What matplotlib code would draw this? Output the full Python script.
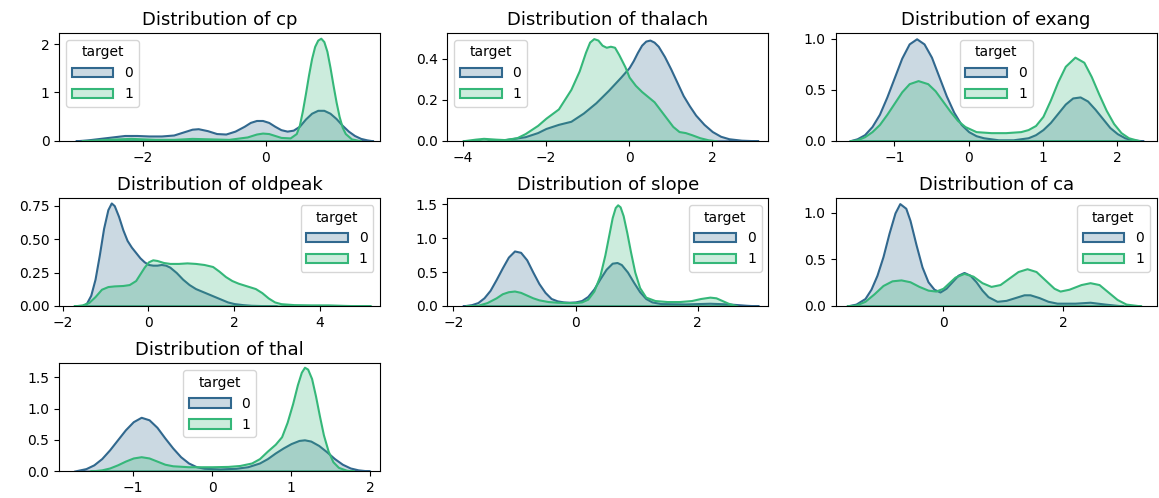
import numpy as np
import matplotlib
matplotlib.use('Agg')
import matplotlib.pyplot as plt
from matplotlib.patches import Patch

# density curves (x, y) for target 0 and target 1
cp_x0 = [-3.1, -2.9, -2.7, -2.5, -2.3, -2.1, -1.9, -1.7, -1.5, -1.3, -1.2, -1.1, -0.95, -0.8, -0.65, -0.5,
         -0.35, -0.25, -0.15, -0.05, 0.05, 0.15, 0.25, 0.35, 0.45, 0.55, 0.65, 0.75, 0.85, 0.95, 1.05,
         1.15, 1.25, 1.35, 1.45, 1.55, 1.65, 1.75]
cp_y0 = [0.0, 0.02, 0.05, 0.08, 0.11, 0.11, 0.10, 0.10, 0.12, 0.2, 0.24, 0.25, 0.21, 0.15, 0.14, 0.2,
         0.3, 0.38, 0.42, 0.42, 0.38, 0.3, 0.23, 0.2, 0.22, 0.3, 0.45, 0.57, 0.63, 0.63, 0.57,
         0.46, 0.32, 0.2, 0.11, 0.05, 0.02, 0.0]
cp_x1 = [-3.0, -2.6, -2.2, -1.8, -1.5, -1.2, -0.9, -0.6, -0.3, -0.15, -0.05, 0.05, 0.15, 0.25, 0.4, 0.5,
         0.55, 0.6, 0.65, 0.7, 0.75, 0.8, 0.85, 0.9, 0.95, 1.0, 1.05, 1.1, 1.15, 1.2, 1.25, 1.3, 1.4, 1.55]
cp_y1 = [0.0, 0.03, 0.05, 0.03, 0.03, 0.05, 0.04, 0.03, 0.08, 0.14, 0.16, 0.15, 0.11, 0.07, 0.06, 0.15,
         0.32, 0.62, 0.98, 1.36, 1.7, 1.95, 2.08, 2.12, 2.05, 1.85, 1.52, 1.15, 0.8, 0.5, 0.28, 0.15, 0.04, 0.0]

thalach_x0 = [-3.4, -3.0, -2.5, -2.2, -2.0, -1.7, -1.4, -1.1, -0.8, -0.5, -0.2, 0.0, 0.1, 0.2, 0.3, 0.4,
              0.5, 0.6, 0.7, 0.85, 1.0, 1.15, 1.3, 1.45, 1.6, 1.8, 2.0, 2.2, 2.4, 2.7, 3.1]
thalach_y0 = [0.0, 0.005, 0.02, 0.04, 0.06, 0.08, 0.095, 0.135, 0.185, 0.245, 0.31, 0.356, 0.39, 0.43,
              0.465, 0.485, 0.49, 0.48, 0.46, 0.41, 0.35, 0.285, 0.22, 0.17, 0.125, 0.08, 0.045, 0.022,
              0.01, 0.003, 0.0]
thalach_x1 = [-4.0, -3.7, -3.5, -3.2, -3.0, -2.7, -2.5, -2.2, -2.0, -1.7, -1.4, -1.2, -1.05, -0.95, -0.85,
              -0.75, -0.65, -0.55, -0.45, -0.35, -0.25, -0.1, 0.0, 0.15, 0.3, 0.45, 0.6, 0.75, 0.9, 1.05,
              1.2, 1.35, 1.5, 1.7, 1.9, 2.1]
thalach_y1 = [0.0, 0.008, 0.012, 0.008, 0.006, 0.015, 0.035, 0.075, 0.11, 0.155, 0.25, 0.34, 0.43, 0.48,
              0.497, 0.49, 0.465, 0.455, 0.46, 0.455, 0.42, 0.36, 0.31, 0.27, 0.24, 0.215, 0.19, 0.15,
              0.11, 0.07, 0.045, 0.04, 0.03, 0.015, 0.005, 0.0]

exang_x0 = [-1.6, -1.5, -1.4, -1.3, -1.2, -1.1, -1.0, -0.9, -0.8, -0.7, -0.6, -0.5, -0.4, -0.3, -0.2, -0.1,
            0.0, 0.1, 0.2, 0.4, 0.6, 0.8, 0.9, 1.0, 1.1, 1.2, 1.3, 1.4, 1.5, 1.6, 1.7, 1.8, 1.9, 2.0, 2.1,
            2.2, 2.35]
exang_y0 = [0.0, 0.02, 0.06, 0.14, 0.26, 0.43, 0.62, 0.81, 0.95, 1.0, 0.95, 0.82, 0.63, 0.44, 0.28, 0.16,
            0.09, 0.05, 0.03, 0.01, 0.01, 0.03, 0.06, 0.11, 0.18, 0.27, 0.36, 0.42, 0.43, 0.39, 0.31, 0.22,
            0.13, 0.07, 0.03, 0.01, 0.0]
exang_x1 = [-1.6, -1.5, -1.4, -1.3, -1.2, -1.1, -1.0, -0.9, -0.8, -0.68, -0.55, -0.45, -0.35, -0.25, -0.15,
            -0.05, 0.1, 0.3, 0.5, 0.7, 0.8, 0.9, 1.0, 1.1, 1.2, 1.3, 1.43, 1.55, 1.65, 1.75, 1.85, 1.95,
            2.05, 2.15, 2.3]
exang_y1 = [0.0, 0.01, 0.04, 0.09, 0.16, 0.26, 0.37, 0.48, 0.56, 0.59, 0.56, 0.49, 0.39, 0.29, 0.2, 0.14,
            0.09, 0.08, 0.08, 0.09, 0.11, 0.15, 0.24, 0.4, 0.58, 0.73, 0.82, 0.77, 0.63, 0.46, 0.3, 0.17,
            0.08, 0.03, 0.0]

oldpeak_x0 = [-1.55, -1.45, -1.35, -1.25, -1.15, -1.05, -0.95, -0.87, -0.8, -0.7, -0.6, -0.5, -0.4, -0.3,
              -0.2, -0.1, 0.0, 0.1, 0.2, 0.3, 0.4, 0.5, 0.65, 0.8, 0.95, 1.1, 1.25, 1.4, 1.55, 1.7, 1.85,
              2.0, 2.2, 2.4, 3.0]
oldpeak_y0 = [0.0, 0.02, 0.08, 0.2, 0.38, 0.58, 0.72, 0.77, 0.75, 0.67, 0.57, 0.49, 0.44, 0.4, 0.36, 0.33,
              0.31, 0.305, 0.305, 0.31, 0.305, 0.29, 0.25, 0.2, 0.16, 0.13, 0.11, 0.09, 0.07, 0.05, 0.03,
              0.018, 0.01, 0.005, 0.0]
oldpeak_x1 = [-1.75, -1.55, -1.4, -1.25, -1.1, -0.95, -0.8, -0.6, -0.45, -0.3, -0.2, -0.1, 0.0, 0.1, 0.2,
              0.35, 0.5, 0.7, 0.9, 1.1, 1.3, 1.5, 1.65, 1.8, 1.95, 2.1, 2.3, 2.5, 2.65, 2.8, 2.95, 3.1,
              3.4, 3.8, 4.2, 4.6, 5.2]
oldpeak_y1 = [0.0, 0.008, 0.025, 0.07, 0.125, 0.145, 0.15, 0.153, 0.16, 0.19, 0.24, 0.29, 0.33, 0.345,
              0.34, 0.325, 0.318, 0.318, 0.322, 0.318, 0.31, 0.295, 0.26, 0.22, 0.19, 0.17, 0.15, 0.13,
              0.1, 0.06, 0.03, 0.017, 0.01, 0.008, 0.008, 0.004, 0.0]

slope_x0 = [-1.85, -1.7, -1.6, -1.5, -1.4, -1.3, -1.2, -1.1, -1.0, -0.9, -0.8, -0.7, -0.6, -0.5, -0.4,
            -0.3, -0.2, -0.1, 0.0, 0.1, 0.2, 0.3, 0.4, 0.5, 0.6, 0.68, 0.75, 0.85, 0.95, 1.05, 1.15, 1.25,
            1.4, 1.8, 2.2, 2.5, 2.8, 3.0]
slope_y0 = [0.0, 0.02, 0.05, 0.12, 0.23, 0.39, 0.56, 0.72, 0.81, 0.79, 0.68, 0.5, 0.33, 0.2, 0.11, 0.075,
            0.06, 0.055, 0.06, 0.08, 0.14, 0.25, 0.4, 0.54, 0.63, 0.64, 0.61, 0.5, 0.35, 0.21, 0.11, 0.06,
            0.035, 0.03, 0.04, 0.03, 0.01, 0.0]
slope_x1 = [-1.8, -1.6, -1.45, -1.3, -1.2, -1.1, -1.0, -0.9, -0.8, -0.7, -0.6, -0.45, -0.3, -0.15, 0.0,
            0.1, 0.2, 0.3, 0.4, 0.48, 0.55, 0.6, 0.65, 0.69, 0.73, 0.78, 0.84, 0.9, 0.97, 1.05, 1.15, 1.3,
            1.5, 1.7, 1.9, 2.05, 2.2, 2.3, 2.4, 2.5, 2.65]
slope_y1 = [0.0, 0.01, 0.05, 0.12, 0.18, 0.21, 0.22, 0.2, 0.16, 0.12, 0.09, 0.065, 0.055, 0.05, 0.05,
            0.06, 0.1, 0.22, 0.45, 0.75, 1.07, 1.3, 1.45, 1.49, 1.46, 1.33, 1.08, 0.8, 0.5, 0.27, 0.13,
            0.08, 0.065, 0.065, 0.08, 0.11, 0.13, 0.12, 0.08, 0.04, 0.0]

ca_x0 = [-1.6, -1.45, -1.3, -1.2, -1.1, -1.0, -0.9, -0.8, -0.72, -0.62, -0.55, -0.45, -0.35, -0.25, -0.15,
         -0.05, 0.05, 0.15, 0.25, 0.35, 0.45, 0.55, 0.65, 0.75, 0.9, 1.05, 1.2, 1.35, 1.45, 1.6, 1.75, 1.9,
         2.2, 2.45, 2.7, 3.0]
ca_y0 = [0.0, 0.02, 0.08, 0.18, 0.33, 0.53, 0.78, 1.0, 1.1, 1.05, 0.92, 0.66, 0.42, 0.26, 0.18, 0.15,
         0.19, 0.26, 0.33, 0.36, 0.33, 0.26, 0.17, 0.1, 0.05, 0.06, 0.09, 0.12, 0.12, 0.09, 0.05, 0.03,
         0.03, 0.04, 0.02, 0.0]
ca_x1 = [-1.6, -1.45, -1.3, -1.15, -1.0, -0.85, -0.7, -0.55, -0.4, -0.25, -0.12, 0.0, 0.1, 0.2, 0.35, 0.5,
         0.65, 0.8, 0.95, 1.1, 1.25, 1.4, 1.55, 1.7, 1.85, 1.95, 2.1, 2.3, 2.45, 2.6, 2.75, 2.9, 3.05, 3.3]
ca_y1 = [0.0, 0.01, 0.05, 0.13, 0.22, 0.27, 0.28, 0.26, 0.21, 0.17, 0.16, 0.19, 0.25, 0.31, 0.35, 0.32,
         0.25, 0.21, 0.23, 0.3, 0.37, 0.4, 0.37, 0.28, 0.19, 0.16, 0.18, 0.23, 0.25, 0.23, 0.15, 0.07,
         0.02, 0.0]

thal_x0 = [-1.75, -1.6, -1.5, -1.4, -1.3, -1.2, -1.1, -1.0, -0.9, -0.8, -0.7, -0.6, -0.5, -0.4, -0.3, -0.2,
           -0.1, 0.1, 0.3, 0.45, 0.6, 0.7, 0.8, 0.9, 1.0, 1.1, 1.17, 1.25, 1.35, 1.45, 1.55, 1.65, 1.75,
           1.85, 2.0]
thal_y0 = [0.0, 0.04, 0.1, 0.2, 0.34, 0.5, 0.66, 0.79, 0.86, 0.82, 0.7, 0.53, 0.37, 0.23, 0.13, 0.07,
           0.045, 0.035, 0.045, 0.07, 0.13, 0.2, 0.29, 0.37, 0.44, 0.49, 0.5, 0.48, 0.41, 0.31, 0.2, 0.11,
           0.05, 0.02, 0.0]
thal_x1 = [-1.55, -1.4, -1.3, -1.2, -1.1, -1.0, -0.9, -0.8, -0.7, -0.6, -0.5, -0.3, 0.0, 0.2, 0.35, 0.5,
           0.6, 0.7, 0.8, 0.88, 0.95, 1.02, 1.08, 1.13, 1.17, 1.21, 1.26, 1.31, 1.36, 1.41, 1.47, 1.53,
           1.6, 1.7, 1.8]
thal_y1 = [0.0, 0.02, 0.05, 0.1, 0.16, 0.21, 0.23, 0.21, 0.16, 0.11, 0.085, 0.07, 0.07, 0.075, 0.09,
           0.13, 0.2, 0.32, 0.43, 0.55, 0.78, 1.08, 1.38, 1.58, 1.66, 1.63, 1.48, 1.2, 0.88, 0.58, 0.32,
           0.15, 0.06, 0.015, 0.0]

features = ['cp', 'thalach', 'exang', 'oldpeak', 'slope', 'ca', 'thal']
curves = {
    'cp': (cp_x0, cp_y0, cp_x1, cp_y1),
    'thalach': (thalach_x0, thalach_y0, thalach_x1, thalach_y1),
    'exang': (exang_x0, exang_y0, exang_x1, exang_y1),
    'oldpeak': (oldpeak_x0, oldpeak_y0, oldpeak_x1, oldpeak_y1),
    'slope': (slope_x0, slope_y0, slope_x1, slope_y1),
    'ca': (ca_x0, ca_y0, ca_x1, ca_y1),
    'thal': (thal_x0, thal_y0, thal_x1, thal_y1),
}
xlims = {'cp': (-3.37, 1.87), 'thalach': (-4.37, 3.35), 'exang': (-1.79, 2.53),
         'oldpeak': (-2.09, 5.42), 'slope': (-2.1, 3.16), 'ca': (-1.79, 3.56), 'thal': (-1.94, 2.13)}
ylims = {'cp': 2.23, 'thalach': 0.525, 'exang': 1.058, 'oldpeak': 0.807, 'slope': 1.59,
         'ca': 1.16, 'thal': 1.725}
xticks = {'cp': [-2, 0], 'thalach': [-4, -2, 0, 2], 'exang': [-1, 0, 1, 2], 'oldpeak': [-2, 0, 2, 4],
          'slope': [-2, 0, 2], 'ca': [0, 2], 'thal': [-1, 0, 1, 2]}
yticks = {'cp': [0, 1, 2], 'thalach': [0.0, 0.2, 0.4], 'exang': [0.0, 0.5, 1.0],
          'oldpeak': [0.0, 0.25, 0.5, 0.75], 'slope': [0.0, 0.5, 1.0, 1.5], 'ca': [0.0, 0.5, 1.0],
          'thal': [0.0, 0.5, 1.0, 1.5]}
legend_loc = {'cp': 'upper left', 'thalach': 'upper left', 'exang': 'upper center',
              'oldpeak': 'upper right', 'slope': 'upper right', 'ca': 'upper right',
              'thal': 'upper center'}
targets = ['0', '1']
colors = [plt.cm.viridis(1 / 3), plt.cm.viridis(2 / 3)]

fig, axes = plt.subplots(3, 3, figsize=(11.59, 4.98), dpi=100)
fig.subplots_adjust(left=0.051, right=0.998, top=0.934, bottom=0.054, wspace=0.209, hspace=0.53)
axes = axes.flatten()

for i, feat in enumerate(features):
    ax = axes[i]
    x0, y0, x1, y1 = curves[feat]
    for (x, y), c in zip([(x0, y0), (x1, y1)], colors):
        ax.fill_between(x, y, facecolor=(*c[:3], 0.25), edgecolor=c, linewidth=1.5)
    ax.set_xlim(*xlims[feat])
    ax.set_ylim(0, ylims[feat])
    ax.set_xticks(xticks[feat])
    ax.set_yticks(yticks[feat])
    ax.tick_params(labelsize=10)
    ax.set_title(f'Distribution of {feat}', fontsize=13)
    handles = [Patch(facecolor=(*c[:3], 0.25), edgecolor=c, linewidth=1.5) for c in colors]
    ax.legend(handles, targets, title='target', loc=legend_loc[feat], fontsize=10,
              title_fontsize=10, handlelength=3.0)

for ax in axes[len(features):]:
    ax.axis('off')

plt.savefig('out.png', dpi=100)
